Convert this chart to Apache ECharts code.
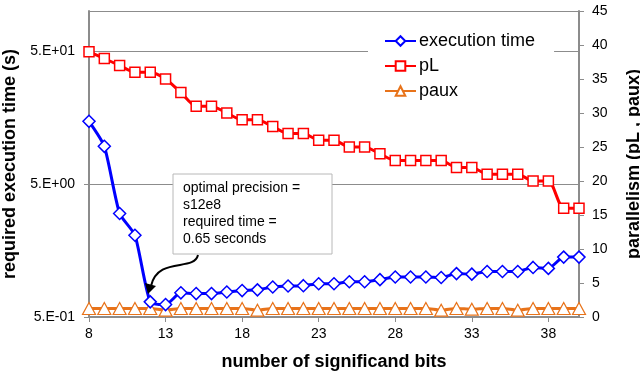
<!DOCTYPE html>
<html>
<head>
<meta charset="utf-8">
<script src="https://cdn.jsdelivr.net/npm/echarts@6/dist/echarts.min.js"></script>
<style>
  html, body { margin: 0; padding: 0; background: #fff; }
  #chart { width: 640px; height: 373px; }
</style>
</head>
<body>
<div id="chart"></div>
<script>
// number of significand bits
const bits = [8, 9, 10, 11, 12, 13, 14, 15, 16, 17, 18, 19, 20, 21, 22, 23, 24,
  25, 26, 27, 28, 29, 30, 31, 32, 33, 34, 35, 36, 37, 38, 39, 40]
// required execution time (s), log axis
const execTime = [14.8, 9.6, 3.0, 2.06, 0.65, 0.62, 0.76, 0.75, 0.75, 0.77, 0.79,
  0.80, 0.84, 0.855, 0.86, 0.89, 0.89, 0.92, 0.92, 0.955, 1.0, 1.0, 1.0, 0.99,
  1.06, 1.05, 1.1, 1.1, 1.1, 1.18, 1.16, 1.41, 1.41]
// parallelism
const pL = [39, 38, 37, 36, 36, 35, 33, 31, 31, 30, 29, 29, 28, 27, 27, 26, 26,
  25, 25, 24, 23, 23, 23, 23, 22, 22, 21, 21, 21, 20, 20, 16, 16]
const paux = [1.25, 1.25, 1.25, 1.25, 1.25, 1.0, 1.25, 1.25, 1.25, 1.25, 1.25,
  1.0, 1.25, 1.25, 1.25, 1.25, 1.25, 1.25, 1.25, 1.25, 1.25, 1.25, 1.25, 1.0,
  1.25, 1.15, 1.25, 1.25, 1.0, 1.25, 1.25, 1.25, 1.25]

const noteLines = ['optimal precision =', 's12e8', 'required time =', '0.65 seconds']

const GREY = '#8c8c8c'
const FONT = 'Liberation Sans, Arial, sans-serif'

function sciLabel(v) {
  const parts = Number(v).toExponential(0).split('e')
  const e = parseInt(parts[1], 10)
  return parts[0] + '.E' + (e < 0 ? '-' : '+') + String(Math.abs(e)).padStart(2, '0')
}

const pair = (ys) => bits.map((b, i) => [b, ys[i]])

const chart = echarts.init(document.getElementById('chart'))

chart.setOption({
  animation: false,
  textStyle: { fontFamily: FONT },
  grid: { left: 89, right: 61, top: 11, bottom: 56, containLabel: false, outerBoundsMode: 'none' },
  legend: {
    orient: 'vertical',
    left: 368,
    top: 23,
    padding: [8, 19, 8, 16],
    backgroundColor: '#fff',
    itemWidth: 31,
    itemHeight: 12,
    itemGap: 5,
    textStyle: { fontSize: 18, color: '#000', lineHeight: 20, padding: [0, 0, 0, -2] },
    data: ['execution time', 'pL', 'paux'],
  },
  xAxis: {
    type: 'value',
    min: 8,
    max: 40,
    interval: 5,
    axisLine: { lineStyle: { color: GREY, width: 2 } },
    axisTick: { length: 5, lineStyle: { color: GREY } },
    axisLabel: { fontSize: 14, color: '#000', margin: 10, showMaxLabel: false },
    splitLine: { show: false },
    name: 'number of significand bits',
    nameLocation: 'middle',
    nameGap: 36,
    nameTextStyle: { fontSize: 18, fontWeight: 'bold', color: '#000' },
  },
  yAxis: [
    {
      type: 'log',
      logBase: 10,
      min: 0.5,
      max: 100,
      interval: 1,
      axisLine: { show: true, lineStyle: { color: GREY, width: 2 } },
      axisTick: { show: true, length: 5, lineStyle: { color: GREY } },
      axisLabel: { fontSize: 14, color: '#000', margin: 14, formatter: sciLabel, showMaxLabel: false },
      splitLine: { show: true, lineStyle: { color: GREY, width: 1 } },
      minorTick: { show: false },
      name: 'required execution time (s)',
      nameLocation: 'middle',
      nameGap: 62,
      nameTextStyle: { fontSize: 18, fontWeight: 'bold', color: '#000' },
    },
    {
      type: 'value',
      min: 0,
      max: 45,
      interval: 5,
      axisLine: { show: true, lineStyle: { color: GREY, width: 2 } },
      axisTick: { show: true, length: 5, lineStyle: { color: GREY } },
      axisLabel: { fontSize: 14, color: '#000', margin: 13 },
      splitLine: { show: false },
      name: 'parallelism (pL , paux)',
      nameLocation: 'middle',
      nameGap: 46,
      nameTextStyle: { fontSize: 18, fontWeight: 'bold', color: '#000' },
    },
  ],
  series: [
    {
      name: 'paux',
      type: 'line',
      yAxisIndex: 1,
      data: pair(paux),
      smooth: 0.25,
      symbol: 'triangle',
      symbolSize: [13, 12],
      lineStyle: { color: '#E8731A', width: 3 },
      itemStyle: { color: '#fff', borderColor: '#E8731A', borderWidth: 1.2 },
      z: 2,
    },
    {
      name: 'pL',
      type: 'line',
      yAxisIndex: 1,
      data: pair(pL),
      smooth: 0.25,
      symbol: 'rect',
      symbolSize: 10,
      lineStyle: { color: '#ff0000', width: 3 },
      itemStyle: { color: '#fff', borderColor: '#ff0000', borderWidth: 1.5 },
      z: 3,
    },
    {
      name: 'execution time',
      type: 'line',
      yAxisIndex: 0,
      data: pair(execTime),
      smooth: 0.2,
      symbol: 'diamond',
      symbolSize: [12, 12],
      lineStyle: { color: '#0000ff', width: 3 },
      itemStyle: { color: '#fff', borderColor: '#0000ff', borderWidth: 1.5 },
      z: 4,
    },
  ],
  graphic: [
    {
      type: 'rect',
      shape: { x: 173, y: 174, width: 159, height: 80 },
      style: { fill: '#fff', stroke: '#b8b8b8', lineWidth: 1 },
      z: 10,
    },
    {
      type: 'text',
      left: 183,
      top: 180,
      style: {
        text: noteLines.join('\n'),
        font: '14px ' + FONT,
        lineHeight: 17,
        fill: '#000',
      },
      z: 11,
    },
    {
      type: 'bezierCurve',
      shape: { x1: 198, y1: 255, cpx1: 194, cpy1: 272, cpx2: 158, cpy2: 256, x2: 151, y2: 286 },
      style: { stroke: '#000', lineWidth: 2, fill: null },
      z: 11,
    },
    {
      type: 'polygon',
      shape: { points: [[145, 283], [156, 286], [148, 294]] },
      style: { fill: '#000' },
      z: 11,
    },
  ],
})
</script>
</body>
</html>
